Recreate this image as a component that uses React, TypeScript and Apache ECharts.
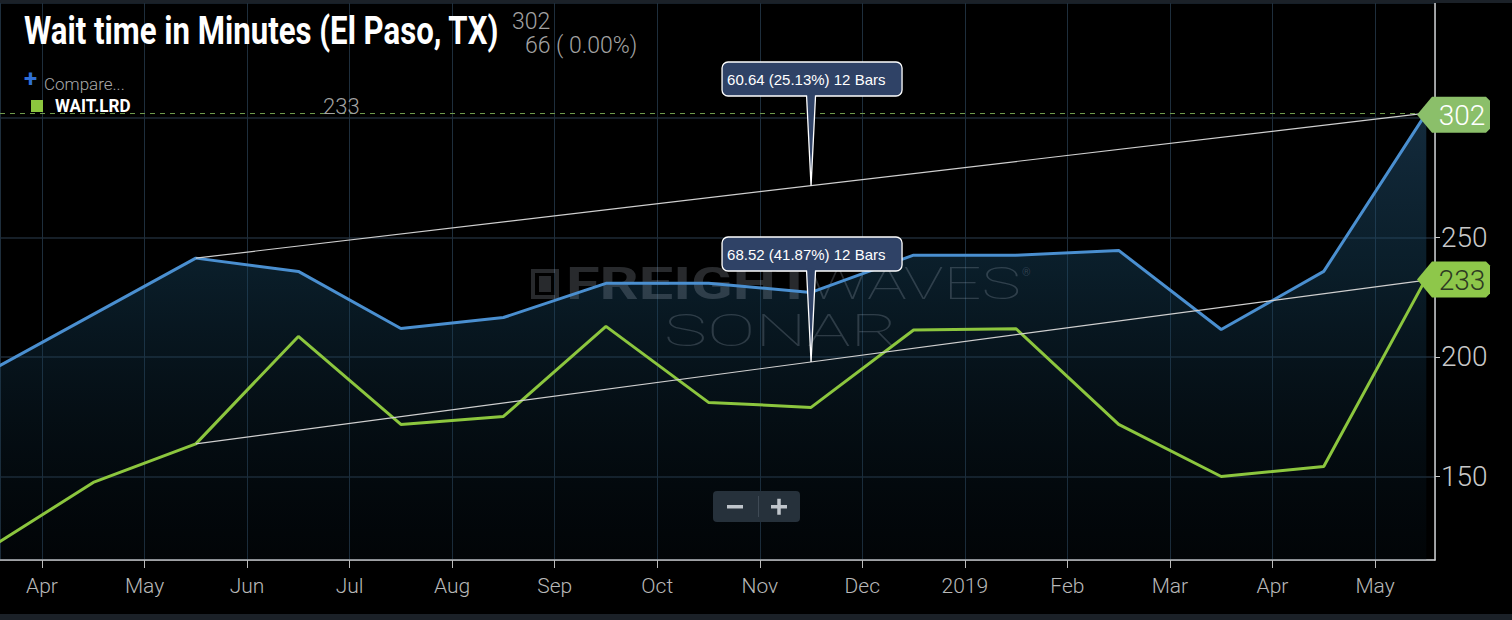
import React, { useEffect, useRef } from "react";
import * as echarts from "echarts";

// month index: 0 = Apr 2018 ... 13 = May 2019; points sit mid-month
const monthLabels = ["Apr", "May", "Jun", "Jul", "Aug", "Sep", "Oct", "Nov", "Dec", "2019", "Feb", "Mar", "Apr", "May"];
const pointX = [-0.5, 0.5, 1.5, 2.5, 3.5, 4.5, 5.5, 6.5, 7.5, 8.5, 9.5, 10.5, 11.5, 12.5, 13.5];
const elPaso = [194.3, 217.8, 241.36, 235.8, 211.9, 216.5, 230.8, 230.8, 227.0, 242.6, 242.6, 244.6, 211.5, 235.8, 302];
const laredo = [120.3, 147.5, 163.65, 208.6, 171.8, 175.1, 212.8, 181.0, 178.9, 211.3, 211.8, 171.8, 150.0, 154.2, 233];
const trendUpper = { x0: 1.5, y0: 241.36, x1: 13.5, delta: 60.64, pct: "25.13%", bars: 12 };
const trendLower = { x0: 1.5, y0: 163.65, x1: 13.5, delta: 68.52, pct: "41.87%", bars: 12 };
const xMin = -0.4096;
const xMax = 13.585;
const yMin = 115.06;
const yMax = 348.1;

const BLUE = "#4a8fd0";
const GREEN = "#8cc63e";

export default function App() {
  const ref = useRef<HTMLDivElement>(null);
  useEffect(() => {
    if (!ref.current) return;
    const chart = echarts.init(ref.current, null, { renderer: "svg" });
    const bluePts = pointX.map((x, i) => [x, elPaso[i]]);
    const greenPts = pointX.map((x, i) => [x, laredo[i]]);
    const up = [[trendUpper.x0, trendUpper.y0], [trendUpper.x1, trendUpper.y0 + trendUpper.delta]];
    const lo = [[trendLower.x0, trendLower.y0], [trendLower.x1, trendLower.y0 + trendLower.delta]];
    const lastBlue = elPaso[elPaso.length - 1];
    const lastGreen = laredo[laredo.length - 1];

    chart.setOption({
      animation: false,
      backgroundColor: "#000",
      grid: { left: 0, right: 77, top: 3, bottom: 60, containLabel: false },
      xAxis: {
        type: "value",
        min: xMin,
        max: xMax,
        minInterval: 1,
        maxInterval: 1,
        axisLine: { show: true, onZero: false, lineStyle: { color: "#cfcfcf", width: 1.5 } },
        axisTick: { show: true, length: 8, lineStyle: { color: "#bbbbbb" } },
        axisLabel: {
          showMinLabel: false,
          showMaxLabel: false,
          color: "#b8b8b8",
          fontSize: 21,
          fontFamily: "Roboto",
          fontWeight: 300,
          margin: 15,
          formatter: (v: number) => (Number.isInteger(v) && v >= 0 && v < monthLabels.length ? monthLabels[v] : ""),
        },
        splitLine: { show: true, lineStyle: { color: "#1e2e3c", width: 1 } },
      },
      yAxis: {
        type: "value",
        position: "right",
        min: yMin,
        max: yMax,
        minInterval: 50,
        maxInterval: 50,
        axisLine: { show: true, onZero: false, lineStyle: { color: "#cfcfcf", width: 1.5 } },
        axisTick: { show: true, length: 5, lineStyle: { color: "#cccccc" } },
        axisLabel: {
          showMinLabel: false,
          showMaxLabel: false,
          color: "#c8c8c8",
          fontSize: 28,
          fontFamily: "Roboto",
          fontWeight: 300,
          margin: 6,
          formatter: (v: number) => (v % 50 === 0 ? String(v) : ""),
        },
        splitLine: { show: true, lineStyle: { color: "#1e2a36", width: 1.5 } },
      },
      series: [
        {
          type: "line",
          z: 1,
          data: bluePts,
          symbol: "none",
          lineStyle: { width: 0 },
          areaStyle: {
            color: {
              type: "linear", x: 0, y: 0, x2: 0, y2: 1,
              colorStops: [
                { offset: 0, color: "rgba(36,78,110,0.78)" },
                { offset: 0.35, color: "rgba(24,70,98,0.6)" },
                { offset: 1, color: "rgba(10,30,45,0.22)" },
              ],
            },
          },
          silent: true,
        },
        {
          type: "line",
          z: 3,
          data: bluePts,
          symbol: "none",
          lineStyle: { color: BLUE, width: 3 },
          markLine: {
            silent: true,
            symbol: "none",
            label: { show: false },
            lineStyle: { color: "#6f9a4c", type: [5, 5], width: 1 },
            data: [{ yAxis: lastBlue }],
          },
        },
        {
          type: "line",
          z: 3,
          data: greenPts,
          symbol: "none",
          lineStyle: { color: GREEN, width: 3 },
        },
        { type: "line", z: 4, data: up, symbol: "none", lineStyle: { color: "#cfcfcf", width: 1.2 } },
        { type: "line", z: 4, data: lo, symbol: "none", lineStyle: { color: "#cfcfcf", width: 1.2 } },
      ],
    });

    const px = (x: number, y: number) => chart.convertToPixel({ xAxisIndex: 0, yAxisIndex: 0 }, [x, y]) as number[];
    const NAVY = "#2f4266";
    const callout = (t: typeof trendUpper, boxTop: number) => {
      const mx = (t.x0 + t.x1) / 2;
      const tip = px(mx, t.y0 + t.delta / 2);
      const bx = tip[0] - 89;
      const bw = 180;
      const bh = 34;
      const by = boxTop;
      const base = by + bh - 1.5;
      return [
        { type: "rect", z: 10, shape: { x: bx, y: by, width: bw, height: bh, r: 6 }, style: { fill: NAVY, stroke: "#ffffff", lineWidth: 1.3 } },
        { type: "polygon", z: 11, shape: { points: [[tip[0] - 4.5, base - 1], [tip[0] + 4.5, base - 1], [tip[0], tip[1]]] }, style: { fill: NAVY } },
        { type: "polyline", z: 12, shape: { points: [[tip[0] - 4.5, base + 1], [tip[0], tip[1]], [tip[0] + 4.5, base + 1]] }, style: { stroke: "#ffffff", lineWidth: 1.3, fill: "none" } },
        {
          type: "text", z: 12, x: bx + 5, y: by + bh / 2,
          style: { text: `${t.delta.toFixed(2)} (${t.pct}) ${t.bars} Bars`, fill: "#ffffff", fontSize: 15, fontFamily: "Liberation Sans, Arial", verticalAlign: "middle" },
        },
      ];
    };
    const tag = (value: number, fill: string, textColor: string) => {
      const p = px(xMax, value);
      const cy = p[1] + 1.5;
      const tipX = 1417;
      return [
        {
          type: "polygon", z: 10,
          shape: { points: [[tipX, cy], [tipX + 15, cy - 18], [1486, cy - 18], [1490, cy - 14], [1490, cy + 14], [1486, cy + 18], [tipX + 15, cy + 18]] },
          style: { fill },
        },
        {
          type: "text", z: 11, x: 1462, y: cy + 1,
          style: { text: String(Math.round(value)), fill: textColor, fontSize: 28, fontFamily: "Roboto", fontWeight: 300, align: "center", verticalAlign: "middle" },
        },
      ];
    };
    const wm = "rgba(200,212,224,0.2)";
    chart.setOption({
      graphic: [
        { type: "rect", z: 20, shape: { x: 0, y: 0, width: 1512, height: 3 }, style: { fill: "#1b2128" } },
        { type: "rect", z: 20, shape: { x: 0, y: 614, width: 1512, height: 6 }, style: { fill: "#1b2128" } },
        // watermark
        { type: "rect", z: 2, shape: { x: 533, y: 271, width: 24, height: 26 }, style: { fill: "none", stroke: wm, lineWidth: 4 } },
        { type: "rect", z: 2, shape: { x: 539, y: 276, width: 12, height: 16 }, style: { fill: wm } },
        { type: "text", z: 2, x: 566, y: 284, scaleX: 1.36, style: { text: "FREIGHT", fill: wm, fontSize: 45, fontWeight: "bold", fontFamily: "Roboto", verticalAlign: "middle" } },
        { type: "text", z: 2, x: 808, y: 284, scaleX: 1.48, style: { text: "WAVES", fill: wm, fontSize: 45, fontWeight: 100, fontFamily: "Roboto", verticalAlign: "middle" } },
        { type: "text", z: 2, x: 1022, y: 272, style: { text: "®", fill: wm, fontSize: 11, fontFamily: "Roboto", verticalAlign: "middle" } },
        { type: "text", z: 2, x: 664, y: 331, scaleX: 1.65, style: { text: "SONAR", fill: wm, fontSize: 44, fontWeight: 100, fontFamily: "Roboto", verticalAlign: "middle" } },
        // header
        { type: "text", z: 20, x: 24, y: 31, scaleX: 0.82, style: { text: "Wait time in Minutes (El Paso, TX)", fill: "#ffffff", fontSize: 38, fontWeight: "bold", fontFamily: "Roboto", verticalAlign: "middle" } },
        { type: "text", z: 20, x: 512, y: 21, style: { text: String(lastBlue), fill: "#a3a3a3", fontSize: 23, fontWeight: 300, fontFamily: "Roboto", verticalAlign: "middle" } },
        { type: "text", z: 20, x: 525, y: 45, style: { text: "66 ( 0.00%)", fill: "#a3a3a3", fontSize: 23, fontWeight: 300, fontFamily: "Roboto", verticalAlign: "middle" } },
        { type: "text", z: 20, x: 24, y: 79, style: { text: "+", fill: "#2f6fd6", fontSize: 24, fontWeight: "bold", fontFamily: "Roboto", verticalAlign: "middle" } },
        { type: "text", z: 20, x: 44, y: 84, style: { text: "Compare...", fill: "#a8a8a8", fontSize: 17, fontWeight: 300, fontFamily: "Roboto", verticalAlign: "middle" } },
        { type: "rect", z: 20, shape: { x: 31, y: 100, width: 12, height: 12 }, style: { fill: GREEN } },
        { type: "text", z: 20, x: 55, y: 106, scaleX: 0.95, style: { text: "WAIT.LRD", fill: "#ffffff", fontSize: 18, fontWeight: "bold", fontFamily: "Roboto", verticalAlign: "middle" } },
        { type: "text", z: 20, x: 323, y: 106, style: { text: String(lastGreen), fill: "#a3a3a3", fontSize: 22, fontWeight: 300, fontFamily: "Roboto", verticalAlign: "middle" } },
        // callouts
        ...callout(trendUpper, 62),
        ...callout(trendLower, 237),
        // value tags
        ...tag(lastBlue, "#8bbf6a", "#ffffff"),
        ...tag(lastGreen, "#8ec74a", "#2d3a22"),
        // zoom control
        { type: "rect", z: 20, shape: { x: 713, y: 491, width: 87, height: 31, r: 4 }, style: { fill: "#26313b" } },
        { type: "line", z: 21, shape: { x1: 758.5, y1: 496, x2: 758.5, y2: 517 }, style: { stroke: "#3f4a55", lineWidth: 1 } },
        { type: "rect", z: 21, shape: { x: 727, y: 505, width: 16, height: 3.5 }, style: { fill: "#bfc5cb" } },
        { type: "rect", z: 21, shape: { x: 771, y: 505, width: 16, height: 3.5 }, style: { fill: "#bfc5cb" } },
        { type: "rect", z: 21, shape: { x: 777.25, y: 498.75, width: 3.5, height: 16 }, style: { fill: "#bfc5cb" } },
      ],
    });
    return () => chart.dispose();
  }, []);
  return <div ref={ref} style={{ position: "fixed", left: 0, top: 0, width: 1512, height: 620 }} />;
}
